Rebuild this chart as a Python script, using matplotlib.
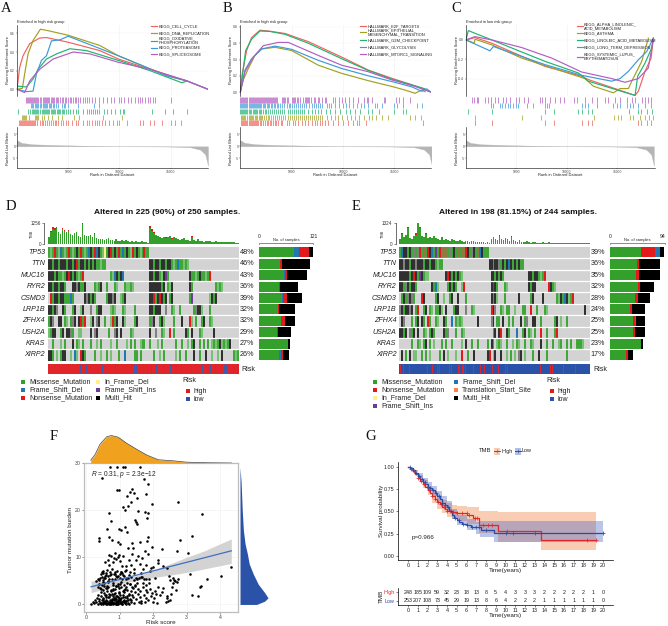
"""Composite figure: GSEA panels, two oncoplots, risk/TMB scatter and a KM plot."""
import matplotlib
matplotlib.use("Agg")
import matplotlib.pyplot as plt
from matplotlib.colors import ListedColormap
from matplotlib.patches import Rectangle
import numpy as np

plt.rcParams["font.family"] = ["Liberation Sans", "DejaVu Sans"]
plt.rcParams["mathtext.fontset"] = "custom"
plt.rcParams["mathtext.rm"] = "Liberation Sans"
plt.rcParams["mathtext.it"] = "Liberation Sans:italic"

W, H = 668, 626

RED, OLIVE, GREEN, BLUE, PURPLE = "#F0625A", "#A3A020", "#1DB56F", "#3C9AD8", "#B45CC0"
GSEA_COLORS = [RED, OLIVE, GREEN, BLUE, PURPLE]

# ---- panel A
a_rank = [
    [0, 260, 590, 1240, 2220, 2880, 5000, 8100, 9900, 13000, 16600, 18660],
    [0, 520, 750, 1080, 1570, 2290, 3200, 5000, 8100, 9900, 14640, 16600],
    [0, 915, 1570, 2060, 2880, 3860, 5160, 6800, 9900, 13000, 16110, 16600],
    [0, 915, 1570, 1900, 2390, 2880, 3370, 4180, 5000, 9900, 14640, 16600, 18660],
    [0, 750, 1240, 2220, 3530, 5490, 7120, 9900, 13000, 16600, 18660],
]
a_es = [
    [0, .235, .36, .49, .55, .555, .505, .415, .325, .215, .09, 0],
    [0, .01, .165, .38, .525, .645, .625, .58, .47, .36, .145, .09],
    [.035, .025, .11, .215, .325, .38, .435, .415, .31, .2, .07, .09],
    [0, -.025, -.02, .165, .31, .36, .52, .53, .57, .36, .145, .09, 0],
    [0, -.035, .09, .215, .325, .4, .38, .29, .215, .09, 0],
]
a_labels = ["KEGG_CELL_CYCLE", "KEGG_DNA_REPLICATION", "KEGG_OXIDATIVE_\nPHOSPHORYLATION",
            "KEGG_PROTEASOME", "KEGG_SPLICEOSOME"]
# hits in hundreds of ranks
a_hits = [
    [2, 3, 4, 5, 6, 7, 8, 9, 10, 11, 12, 13, 14, 15, 16, 17, 18, 20, 22, 24, 25, 27, 29, 31, 33, 35, 37, 38,
     40, 43, 45, 48, 50, 54, 58, 60, 64, 68, 70, 73, 76, 78, 80, 83, 86, 90, 94, 98, 100, 107, 120, 123, 130,
     134, 142, 150, 154, 160],
    [5, 6, 7, 8, 9, 12, 18, 19, 20, 21, 24, 26, 30, 34, 40, 44, 56, 61, 84, 103],
    [1, 11, 13, 15, 16, 17, 18, 19, 20, 21, 22, 24, 25, 26, 27, 28, 29, 30, 31, 33, 34, 35, 36, 37, 39, 40, 41,
     42, 44, 45, 46, 48, 50, 52, 55, 58, 60, 64, 68, 70, 72, 74, 76, 78, 80, 85, 88, 92, 96, 101, 104, 105,
     132, 145, 152, 166],
    [14, 15, 16, 18, 19, 20, 21, 22, 23, 25, 26, 27, 28, 29, 31, 32, 33, 35, 36, 38, 40, 44, 46, 47, 50, 60, 75, 80],
    [9, 10, 11, 12, 13, 14, 15, 16, 17, 18, 19, 20, 21, 22, 23, 25, 26, 27, 28, 29, 30, 31, 33, 34, 35, 36, 38,
     39, 40, 42, 44, 45, 47, 48, 50, 52, 53, 55, 57, 58, 60, 62, 64, 66, 68, 70, 73, 76, 80, 84, 88, 92, 95, 100,
     102, 105, 108, 111, 115, 118, 120, 122, 125, 128, 130, 133, 135, 150],
]

# ---- panel B
b_rank = [
    [0, 195, 615, 1100, 1915, 2730, 4350, 6620, 9870, 12470, 14740, 16690, 18570],
    [0, 290, 780, 1430, 2080, 3380, 5000, 7600, 9870, 12470, 14740, 16040, 17010, 17660, 17990],
    [0, 195, 520, 1100, 1915, 2890, 4350, 6620, 9870, 12470, 14740, 16690, 17990],
    [0, 455, 1100, 2080, 3380, 5000, 7600, 9870, 12470, 14740, 16690, 17660, 18150, 18570],
    [0, 455, 1270, 2240, 3700, 4675, 7600, 9870, 12470, 14740, 17010, 18570],
]
b_es = [
    [0, .23, .51, .67, .76, .75, .72, .62, .43, .27, .17, .09, 0],
    [0, .15, .29, .45, .53, .55, .51, .33, .23, .14, .07, .025, -.015, .025, .005],
    [0, .19, .51, .65, .75, .745, .71, .6, .41, .265, .16, .09, .04],
    [0, .27, .41, .53, .565, .525, .39, .29, .2, .13, .065, .01, .04, 0],
    [0, .25, .43, .57, .61, .61, .45, .33, .25, .15, .07, 0],
]
b_labels = ["HALLMARK_E2F_TARGETS", "HALLMARK_EPITHELIAL_\nMESENCHYMAL_TRANSITION",
            "HALLMARK_G2M_CHECKPOINT", "HALLMARK_GLYCOLYSIS", "HALLMARK_MTORC1_SIGNALING"]
b_hits = [
    [1, 2, 3, 4, 5, 6, 7, 8, 9, 10, 11, 12, 13, 14, 15, 16, 17, 19, 20, 22, 24, 26, 27, 29, 30, 32, 34, 35, 37, 40,
     41, 45, 47, 51, 53, 56, 60, 63, 66, 70, 73, 75, 78, 80, 82, 85, 90, 95, 100, 105, 110, 114, 116, 122, 178],
    [1, 2, 3, 4, 5, 7, 8, 9, 10, 11, 12, 14, 15, 16, 18, 19, 20, 21, 23, 25, 27, 28, 30, 32, 34, 36, 38, 40, 42,
     44, 46, 48, 50, 52, 54, 56, 58, 60, 62, 64, 66, 68, 70, 72, 74, 76, 78, 80, 84, 88, 92, 95, 99, 104, 108, 112,
     116, 120, 125, 128, 132, 138, 144, 165, 170, 176],
    [0, 1, 2, 3, 4, 5, 6, 7, 8, 9, 10, 12, 13, 14, 15, 16, 18, 19, 20, 22, 24, 25, 27, 29, 31, 33, 35, 37, 39, 41,
     43, 46, 48, 50, 52, 54, 56, 58, 60, 62, 66, 70, 73, 76, 79, 83, 87, 92, 97, 103, 107, 112, 117, 124, 128, 135,
     150, 158, 161],
    [0, 1, 2, 3, 4, 5, 6, 7, 8, 9, 10, 11, 12, 13, 14, 15, 16, 17, 18, 19, 20, 22, 23, 24, 26, 27, 28, 30, 31, 33,
     34, 36, 37, 39, 41, 43, 45, 47, 48, 50, 52, 54, 56, 58, 60, 62, 64, 67, 70, 72, 74, 76, 78, 80, 84, 86, 88, 92,
     96, 100, 103, 106, 110, 114, 118, 120, 124, 131, 133, 138, 150, 153, 158, 172, 177],
    [0, 1, 2, 3, 4, 5, 6, 7, 8, 9, 10, 11, 12, 13, 14, 15, 16, 17, 18, 19, 20, 21, 22, 23, 24, 25, 26, 27, 28, 29,
     30, 31, 32, 33, 34, 35, 36, 41, 42, 43, 44, 45, 46, 50, 51, 52, 53, 55, 56, 58, 61, 63, 64, 65, 66, 67, 69, 72,
     73, 76, 77, 80, 82, 83, 90, 92, 96, 99, 102, 106, 110, 115, 120, 123, 124, 128, 140, 141, 152, 155, 158, 165],
]

# ---- panel C
c_rank = [
    [0, 890, 2550, 7850, 11490, 12150, 16790, 17120, 17780, 18380, 18610],
    [0, 830, 890, 2550, 5530, 11820, 12650, 14640, 15300, 16130, 16460, 17450, 18110],
    [0, 230, 2550, 7850, 11160, 12150, 16790, 17050, 17780, 18440, 18610],
    [0, 2380, 2715, 7850, 11490, 14470, 15300, 16130, 17120, 17950, 18610],
    [0, 890, 2550, 5530, 8510, 11490, 14470, 15790, 17120, 18110, 18610],
]
c_es = [
    [0, .024, -.034, -.274, -.376, -.41, -.574, -.53, -.325, -.188, .017],
    [0, -.034, .007, -.051, -.188, -.4, -.479, -.547, -.503, -.503, -.427, -.222, .017],
    [0, .096, 0, -.222, -.342, -.427, -.574, -.376, -.239, -.085, .017],
    [0, -.113, -.068, -.256, -.366, -.427, -.4, -.325, -.205, -.12, .017],
    [0, .034, 0, -.079, -.188, -.332, -.4, -.438, -.4, -.29, .017],
]
c_labels = ["KEGG_ALPHA_LINOLENIC_\nACID_METABOLISM", "KEGG_ASTHMA", "KEGG_LINOLEIC_ACID_METABOLISM",
            "KEGG_LONG_TERM_DEPRESSION", "KEGG_SYSTEMIC_LUPUS_\nERYTHEMATOSUS"]
c_hits = [
    [9, 26, 78, 87, 115, 121, 125, 171, 174, 180, 184],
    [9, 56, 74, 127, 147, 151, 154, 163, 166, 173, 178, 182, 186],
    [2, 26, 78, 87, 111, 115, 121, 125, 162, 171, 174, 180, 185],
    [25, 27, 34, 36, 39, 42, 44, 47, 50, 52, 61, 67, 78, 80, 82, 115, 118, 121, 130, 146, 150, 153, 160, 163, 166,
     171, 178, 184],
    [6, 8, 11, 12, 19, 22, 25, 29, 32, 37, 40, 44, 50, 53, 58, 62, 73, 75, 78, 83, 88, 93, 97, 107, 110, 118, 125,
     130, 138, 141, 148, 153, 160, 165, 168, 175, 178, 181, 184],
]

metric_rank = [0, 430, 1570, 4840, 9740, 14640, 16930, 17910, 18400, 18660]
metric_value = [2.5, 1.4, .8, .4, 0, -.1, -.4, -1.4, -3.4, -8]

# ---- oncoplots
GENES_D = ["TP53", "TTN", "MUC16", "RYR2", "CSMD3", "LRP1B", "ZFHX4", "USH2A", "KRAS", "XIRP2"]
GENES_E = ["TP53", "TTN", "MUC16", "RYR2", "CSMD3", "LRP1B", "ZFHX4", "USH2A", "KRAS", "XIRP2"]
PCT_D = ["48%", "46%", "43%", "36%", "39%", "32%", "32%", "29%", "27%", "26%"]
PCT_E = ["39%", "36%", "35%", "32%", "28%", "24%", "25%", "25%", "23%", "17%"]

ONCO_D = [
    "glgrglbglg rglgkgrglg bkgrbkglyg krgkgrgbgk glrgkglgrg g......... .......... .......... .......... ......",
    "kkgkkgkkkg kkgkrgkkgk gkgkgglgg. .......... .......... .kkgkkgkkg kkglgbgglg l......... .......... ......",
    "kkkgkgglgk rkgkglgr.. .......... .glbkgkb.. .......... .kkgkkglkv g......... .kgglgkggl gr........ ......",
    "kkgkkgkkg. ..kkdkggk. ...glgk..g ...gl...gl lgl....... .kkkkkkgk. glk....... .kg....... ....glgl.. ......",
    ".rgkkgkkgg gbg.....kd kgkg.....g kkdk..lgk. .......... .kkrgkrkgk .gk....... .gv....... .lkgk..... ......",
    "kkgkd..kg. ..gk..lk.. .d..gkk... .lgl...gl. ...g...... .kkgkkk..d ..gl..g... ...gdkkl.. .g........ ......",
    "gkd..kk.gl .gdk.krgr. .lk.dk..g. .lrgk..kl. ...gk..... .gdk..gkl. ...g...k.. .rl.g..gk. .gl....... ......",
    "lgkk..gk.k kdg..ll... .k.dk..... g..dk.k... .gl....... .k..d..gl. .r.g.....k g.k...gl.. ...k...... ......",
    "..g...l.g. ..k.gl.g.. .g..l.g... .l..g....l .g.g..lgg. .g...l.g.. ....g..g.. l.gk..g.g. g.lglgklgl gk....",
    "kkg.l.gkk. .l.bl.rkg. ...g..l..g .l...g..b. ...gg.g... ...g..l.g. ....l.g..g ...k..g..k ..l..l.k.. ...glg",
]
ONCO_E = [
    "gbkkgkgdgd rgngrkbgvg rnnngdgkgn gnnrkgdkgn bkggg..... .......... .......... .......... .......... ......",
    "kkdkkgkkdk kkgkkgkkgl gg........ .......... .....kkgkk dgkgkbkgkg kgg....... .......... .......... ......",
    "kkkkkgkrkg vkgll..... ...krkgkgk gl........ ......kkgk gkg....... .....kkgkk glgr...... .......... ......",
    "kkgdkgkkg. ......kgbl ....gkgkg. .lr....... ......krkg ...gl..... .....kgkk. .....rkgl. .......... ......",
    ".gkgdkdg.. .rk.....gk ..l..gk..k ...g...... ......kgkl ...g...... k.....gk.. ..k......g lkgbklgr.. ......",
    "dkgkkdk.gr ..gk.gl.gg kl.k...gkk ...d..gl.. ......rkd. .gl.gg..l. ..gg..r..g ...gl..... .......... ...k..",
    ".kd...g.gk .kg.rg..gl ..kg..b.gl gl.......k ......dk.g g.k..g.g.. .k.gd..kk. .g......gk .l..g..... ......",
    "kkgk.dgk.k ..gl.gkg.. ..kgd...g. .gl....... .......gk. kr..kg...b ..gk.gl.g. .r..g...gr .......... ......",
    "......g..g l.gk.g.l.. .g.g..g... .l.k..g..g ....g.kg.l gl..g..l.g l..g..gl.. .k..g..g.. lg..g.g..g ggl...",
    ".k.g.k.ll. .g.g.l.... g.k.l...l. .r..g..k.. ....kr.lk. .k..l.g.l. dk.l...g.. k...g..... ....g..... ......",
]
ONCO_COLORS = {".": "#D3D3D3", "g": "#3FA63A", "l": "#78C074", "k": "#303030", "d": "#808080", "r": "#E31A1C",
               "b": "#1F78B4", "v": "#6A3D9A", "y": "#FFF08A", "n": "#8F7A3F"}

tmb_d = [400, 700, 900, 850, 950, 700, 600, 900, 800, 700, 750, 600, 550, 650, 700, 500, 400, 1200, 520, 460, 500,
         560, 400, 600, 380, 290, 320, 280, 240, 330, 350, 270, 260, 210, 310, 220, 200, 260, 190, 250, 180, 160, 190,
         150, 170, 150, 130, 180, 150, 120, 90, 950, 800, 650, 520, 480, 430, 380, 400, 360, 430, 460, 300, 420, 380,
         290, 260, 300, 340, 270, 240, 220, 420, 260, 220, 300, 180, 170, 150, 200, 170, 190, 150, 130, 170, 130, 120,
         160, 120, 120, 110, 140, 120, 110, 90, 80]
tmb_e = [300, 620, 420, 560, 1000, 400, 350, 480, 600, 1280, 1000, 500, 450, 620, 400, 420, 360, 500, 380, 300, 280,
         420, 260, 300, 240, 200, 350, 240, 180, 200, 260, 190, 170, 200, 230, 160, 180, 200, 140, 170, 130, 150,
         120, 110, 120, 90, 300, 420, 350, 280, 500, 320, 260, 380, 300, 220, 450, 250, 200, 170, 260, 150, 130, 150,
         190, 120, 110, 130, 150, 100, 110, 90, 170, 110, 90, 120, 90, 80, 100, 80, 110, 80, 70, 90, 70, 80, 100, 70,
         80, 60, 70, 90, 60, 70, 50, 60]
tmb_d_peak_cols = [1, 2, 3, 4, 7, 8, 10, 17, 23, 51, 52, 53, 59, 62, 72]
tmb_d_peak_caps = [60, 90, 70, 80, 70, 60, 60, 100, 60, 90, 70, 50, 40, 40, 40]
tmb_e_peak_cols = [1, 4, 8, 9, 10, 13, 47, 50, 56]
tmb_e_peak_caps = [60, 80, 70, 110, 80, 50, 40, 40, 40]

BAR_KINDS = ["#33A02C", "#1F78B4", "#E31A1C", "#000000"]
side_d_missense = [78, 47, 56, 45, 52, 43, 50, 41, 65, 45]
side_d_frameshift = [11, 0, 2, 0, 2, 0, 0, 0, 0, 5]
side_d_nonsense = [23, 4, 5, 2, 8, 2, 9, 1, 0, 3]
side_d_multi = [9, 62, 43, 41, 34, 36, 22, 30, 3, 13]
side_e_missense = [53, 46, 45, 48, 42, 35, 39, 39, 53, 27]
side_e_nonsense = [24, 3, 4, 4, 5, 2, 4, 4, 0, 3]
side_e_frameshift = [8, 0, 0, 0, 0, 0, 2, 0, 0, 0]
side_e_multi = [8, 37, 36, 24, 22, 22, 15, 17, 3, 10]

risk_low_in_d = [42, 50, 64, 71, 88, 113, 116, 119, 125, 130, 135, 142, 151, 160, 175, 188, 193, 202, 212, 219, 231,
                 234, 243, 248]
risk_high_in_e = [1, 5, 13, 36, 42, 48, 51, 64, 67, 75, 77, 80, 82, 84, 94, 103, 109, 119, 127, 136, 138, 180, 193,
                  195, 210, 225]

LEGEND_D = [("Missense_Mutation", "#33A02C", 23, 381.7), ("Frame_Shift_Del", "#1F78B4", 23, 390),
            ("Nonsense_Mutation", "#E31A1C", 23, 398), ("In_Frame_Del", "#FFF08A", 98, 381.7),
            ("Frame_Shift_Ins", "#6A3D9A", 98, 390), ("Multi_Hit", "#000000", 98, 398)]
LEGEND_E = [("Missense_Mutation", "#33A02C", 375, 381.7), ("Nonsense_Mutation", "#E31A1C", 375, 390),
            ("In_Frame_Del", "#FFF08A", 375, 398), ("Frame_Shift_Ins", "#6A3D9A", 375, 406),
            ("Frame_Shift_Del", "#1F78B4", 456, 381.7), ("Translation_Start_Site", "#FF7F50", 456, 390),
            ("Multi_Hit", "#000000", 456, 398)]

# ---- panel F
risk_score = [
    .71, .91, 1.11, 1.16, 1.61, .49, 1.74, 1.86, 1.37, .93, .98, 1.31, 1.44, 1.79, 1.23, 1.51, 1.33, 1.98, 2.75, 1.11,
    1.26, 1.17, 1.55, 1.77, .69, 3.47, 1.86, 1.82, 1.47, .74, 1.49, 1.53, 1.15, .98, 1.03, .63, 1.23, 3.17, .39, .39,
    .7, 1.84, .76, 2.8, .94, 1.01, 1.38, 1.61, 1.81, 2.27, 2.72, 3.05, 1.98, 4.33, 3.1, 4.03, 3.6, 3.42, 3.4, 3.17,
    3.34,
    .31, .36, .42, .45, .5, .52, .55, .58, .6, .62, .66, .68, .7, .72, .75, .78, .8, .83, .86, .88, .9, .92, .95, .98,
    1.0, 1.02, 1.05, 1.08, 1.1, 1.13, 1.16, 1.2, 1.24, 1.28, 1.3, 1.33, 1.37, 1.4, 1.44, 1.48, 1.5, 1.55, 1.6, 1.63,
    1.67, 1.7, 1.75, 1.8, 1.85, 1.9, 1.95, 2.0, 2.05, 2.14, 2.14, 2.3, 2.4, 2.48, 2.5, 2.6, 2.62, 2.75,
    .4, .48, .56, .65, .7, .76, .82, .87, .93, 1.0, 1.06, 1.11, 1.18, 1.25, 1.35, 1.42, 1.52, 1.58, 1.65, 1.72, 1.78,
    1.88,
    .14, .2, .25, .28, .3, .33, .35, .38, .4, .42, .44, .46, .48, .5, .52, .54, .56, .58, .6, .62,
    .64, .66, .68, .7, .72, .74, .76, .78, .8, .82, .84, .86, .88, .9, .92, .94, .96, .98, 1.0, 1.02,
    .45, .5, .55, .6, .63, .67, .71, .75, .79, .83, .87, .91, .95, .99, 1.03, 1.05, 1.08, 1.1, 1.12, 1.15,
    1.17, 1.2, 1.22, 1.25, 1.27, 1.3, 1.32, 1.35, 1.38, 1.4, 1.43, 1.46, 1.5, 1.53, 1.57, 1.6, 1.62, 1.65, 1.7, 1.72,
    1.75, 1.78, 1.8, 1.83, 1.86, 1.9, 1.93, 1.96, 2.0, 2.03, 2.05, 2.08, 2.12, 2.15, 2.2, 2.25, 2.3, 2.37, 2.4, 2.42,
    2.45, 2.5, 2.52, 2.55, 2.6, 2.65, 2.68, 2.72, .36, .41, .47, .53, .59, .65, .69, .73, .77, .81, .85, .89,
    .93, .97, 1.01, 1.04, 1.07, 1.09, 1.13, 1.18, 1.23, 1.28, 1.34, 1.41, 1.47, 1.55, 1.63, 1.7, 1.79, 1.87, .6, .7,
    .72, .75, .78, .8, .83, .85, .88, .91, .94, .96, .99, 1.02, 1.06, 1.1, 1.14, 1.19, 1.24, .55, .5, .45,
    .52, .57, .61, .66, .69, .73, .77, .8, .84, .89, .93, .97, 1.0, 1.04, 1.09, 1.13, 1.18, 1.22, 1.27, 1.33,
    .35, .4, .44, .5, .53, .57, .62, .67, .74, .79, .85, .9, .96, 1.01, 1.07, 1.15, 1.21, 1.29, 1.36, 1.45,
    .47, .51, .59, .64, .71, .79, .86, .94, 1.03, 1.12, 1.2, 1.3, 1.42, 1.56, 1.68, .5, .6, .7, .8, .9,
]
tmb_score = [
    29.1, 29.1, 29.1, 29.1, 29.1, 26.9, 26.6, 25.6, 24.5, 24.3, 24.2, 23.9, 23.6, 23.5, 23, 22.6, 21.7, 21.4, 21.7, 20.7,
    20.9, 20.1, 19.8, 19.6, 19.3, 19.2, 19.3, 18.3, 18, 17.8, 17.5, 17.1, 16.4, 16.1, 15.8, 16, 15.3, 14.5, 14.2, 13.5,
    14.4, 14.4, 13.7, 13.6, 13.2, 12.9, 13.1, 13.2, 13.5, 11.7, 11.3, 11, 12.2, 7.9, 6.5, 6, 5.3, 4, 3.8, 2,
    1.7,
    5.0, 5.5, 5.6, 6.5, 5.2, 7.1, 5.6, 8.9, 6.2, 7.4, 9.4, 8.3, 10.5, 6.2, 10.3, 7.6, 9.0, 9.8, 11.0, 6.0, 9.6, 7.1, 10.0,
    10.5, 6.5, 9.3, 6.8, 8.2, 10.2, 6.0, 7.1, 8.1, 12.0, 9.4, 6.8, 8.3, 10.6, 11.9, 7.6, 9.5, 5.7, 10.2, 8.6, 6.6,
    9.8, 7.5, 11.3, 8.4, 10.8, 7.2, 7.7, 7.9, 5.6, 9.5, 8.8, 8.2, 7.8, 6.0, 5.2, 5.6, 5.2, 5.4,
    5.2, 5.9, 5.7, 6.1, 5.4, 5.5, 6.4, 5.3, 5.8, 5.6, 5.4, 6.2, 5.5, 5.7, 5.9, 5.2, 5.5, 5.6, 5.8, 5.4, 5.3,
    5.5,
    .2, .6, .3, .9, .5, 1.4, .2, .8, 1.1, .4, 1.7, .3, .9, .2, 1.3, .6, 2.0, .4, 1.0, .2,
    .7, 1.5, .3, 2.2, .9, .2, 1.2, .5, 1.8, .3, .9, 2.5, .2, 1.1, .6, 1.6, .3, .8, 2.1, .4,
    2.6, 3.1, 2.4, 3.4, 2.8, 3.7, 1.9, 2.9, 4.1, 2.3, 3.3, 1.7, 4.4, 2.7, 1.3, 3.6, .5, 2.0, 1.0, .3,
    1.5, .8, 3.0, .4, 2.3, 1.2, 4.3, .6, 1.9, 3.4, .3, 2.6, 1.1, 4.6, .5, 2.9, 1.6, .4, 3.7, 2.1,
    .5, 1.3, 4.2, 2.7, .9, 3.3, 1.8, 2.4, .6, 1.4, 2.9, 2.2, .4, 3.6, 1.9, 2.6, 3.4, .5, 1.8, 1.4,
    .7, .9, 2.3, 3.8, 4.6, 4.9, 3.0, 4.8, 1.9, 3.5, 4.1, 4.5, 1.6, 4.9, .6, 3.1, .4, 4.6, 1.4, 3.9,
    .5, 3.4, 1.1, 4.8, .2, 2.9, 4.1, 3.6, 1.7, .2, 2.8, 1.5, 4.0, 2.2, .8, 4.6, 3.0, 4.5, .1, .4,
    .1, .6, .9, .2, 1.4, .4, .7, .1, 1.0, .2, 1.3, .7, .1, .7, .5, .2, .9, .7, .5, .2,
    1.2, .5, 1.9, .3, 1.5, .8, 2.2, .4, 1.1, 1.8, .6, 2.4, .9, .3, 1.6, 2.7, .7, 1.3, 2.0, 1.0,
    3.8, 4.4, 3.2, 6.7, 4.0, 6.0, 3.5, 4.7, 6.4, 3.1, 6.8, 3.9, 6.1, 4.3, 6.6, 3.3, 4.6, 6.3, 3.6, 4.1,
    6.9, 4.8, 6.6, 3.9, 6.8, 3.3, 6.5, 4.0, 6.9, 3.0, 7.4, 4.4, 6.7, 3.2, 5.9, .4, .3, .2, .3, .2,
]
fit_risk = [.15, 4.33]
fit_tmb = [3.74, 11.37]
band_risk = [.15, .6, 1.0, 1.5, 2, 2.5, 3, 3.5, 4.33]
band_upper = [5.0, 5.0, 5.4, 6.1, 7.3, 8.6, 10, 11.3, 13.9]
band_lower = [2.5, 3.4, 4.3, 5.1, 5.7, 6.2, 6.8, 7.5, 8.7]
dens_risk = [.14, .27, .42, .62, .76, .96, 1.21, 1.51, 1.81, 2.15, 2.6, 3.0, 3.6, 4.34]
dens_risk_h = [.1, .31, .69, .96, 1.0, .94, .72, .5, .29, .12, .08, .03, .01, .0]
dens_tmb = [0, .7, 1.4, 2.5, 4.3, 6.5, 8.6, 10.8, 12.9, 15.8, 20, 25.9, 29.1]
dens_tmb_h = [.59, .88, 1.0, .88, .65, .47, .33, .26, .18, .12, .08, .04, 0]

# ---- panel G
km_high_t = [0, .25, .5, .75, 1, 1.25, 1.5, 1.75, 2, 2.25, 2.5, 2.75, 3, 3.25, 3.5, 3.75, 4, 4.25, 4.5, 5, 6.1, 6.7,
             7.3, 9.2, 13.6, 19.3]
km_high_s = [1, .98, .95, .92, .88, .845, .81, .775, .74, .705, .67, .64, .61, .58, .55, .53, .51, .5, .49, .48, .455,
             .43, .35, .275, .185, .185]
km_low_t = [0, .25, .5, .75, 1, 1.25, 1.5, 1.75, 2, 2.25, 2.5, 2.75, 3, 3.25, 3.5, 3.75, 4, 4.25, 4.5, 4.75, 5, 5.25,
            5.5, 6, 6.5, 7, 7.5, 8.8, 20]
km_low_s = [1, .985, .96, .93, .9, .865, .83, .805, .78, .76, .74, .705, .67, .635, .6, .575, .55, .5, .46, .43, .4,
            .38, .36, .345, .33, .32, .29, .255, .255]
ci_high_t = [0, .5, 1, 1.5, 2, 2.5, 3, 3.5, 4, 4.5, 5, 6.1, 7.3, 9.2, 13.6, 19.3]
ci_high_up = [1, .96, .91, .85, .79, .73, .68, .63, .59, .57, .565, .55, .5, .495, .495, .495]
ci_high_lo = [1, .93, .85, .76, .68, .6, .53, .48, .44, .41, .39, .36, .26, .155, .07, .07]
ci_low_t = [0, .5, 1, 1.5, 2, 2.5, 3, 3.5, 4, 4.5, 5, 6, 7, 7.4, 8.8, 20]
ci_low_up = [1, .97, .93, .88, .83, .78, .73, .67, .62, .53, .46, .41, .38, .39, .39, .39]
ci_low_lo = [1, .95, .87, .8, .73, .67, .61, .55, .49, .41, .35, .29, .25, .21, .16, .16]
cens_high = [.3, .6, 1, 1.3, 1.6, 1.9, 2.2, 2.5, 2.8, 3.1, 3.4, 3.7, 4, 4.3, 4.6, 5, 5.5, 6, 6.3, 6.9, 7.1, 7.7, 8.2,
             8.6, 10.2, 18.4, 19.3]
cens_low = [.2, .5, .8, 1.1, 1.4, 1.7, 2, 2.3, 2.6, 2.9, 3.2, 3.5, 3.8, 4.1, 4.4, 4.8, 5.2, 5.6, 6.1, 6.6, 7, 7.3, 8,
            10.1, 10.8, 13, 20]
at_risk_high = [248, 185, 109, 59, 32, 23, 18, 13, 8, 5, 4, 3, 3, 3, 2, 2, 2, 2, 2, 1, 0]
at_risk_low = [253, 207, 108, 73, 45, 29, 19, 13, 8, 6, 4, 2, 2, 2, 1, 1, 1, 1, 1, 1, 0]
years = list(range(21))

fig = plt.figure(figsize=(W / 100, H / 100), dpi=100)


def px_axes(x0, y0, x1, y1):
    """Axes from pixel box, y counted from the top of the figure."""
    return fig.add_axes([x0 / W, 1 - y1 / H, (x1 - x0) / W, (y1 - y0) / H])


def label(x, y, s, **kw):
    kw.setdefault("va", "center")
    fig.text(x / W, 1 - y / H, s, **kw)


def plot_gsea(x0, x1, title, title_x, rank, es, names, hits, ylims, yticks, ylabs, xmax, leg, leg_x):
    ax = px_axes(x0, 25, x1, 96)
    for r, e, c in zip(rank, es, GSEA_COLORS):
        ax.plot(r, e, color=c, lw=0.85, solid_joinstyle="round")
    ax.set_xlim(0, xmax)
    ax.set_ylim(*ylims)
    ax.set_xticks([5000, 10000, 15000], [])
    ax.set_yticks(yticks, ylabs)
    ax.tick_params(axis="y", labelsize=2.4, length=1, width=0.3, pad=0.6, colors="#444444")
    ax.tick_params(axis="x", length=0)
    ax.grid(axis="x", color="#efefef", lw=0.4)
    ax.grid(axis="y", color="#f3f3f3", lw=0.3)
    ax.set_axisbelow(True)
    for s in ["top", "right", "bottom"]:
        ax.spines[s].set_visible(False)
    ax.spines["left"].set_linewidth(0.4)

    rug = px_axes(x0, 97, x1, 126)
    for i, (h, c) in enumerate(zip(hits, GSEA_COLORS)):
        ranks = np.array(h) * 100
        rug.vlines(ranks, i + 0.05, i + 0.95, color=c, lw=0.7, alpha=0.72)
    rug.set_xlim(0, xmax)
    rug.set_ylim(0, 5)
    rug.axis("off")

    m = px_axes(x0, 127, x1, 168)
    m.fill_between(metric_rank, 0, metric_value, color="#b5b5b5", lw=0.2)
    m.set_xlim(0, xmax)
    m.set_ylim(-8.9, 7.9)
    m.set_xticks([5000, 10000, 15000], ["5000", "10000", "15000"])
    m.set_yticks([-5, 0, 5], ["-5", "0", "5"])
    m.tick_params(labelsize=2.4, length=0.8, width=0.3, pad=0.3, colors="#444444")
    m.grid(axis="x", color="#efefef", lw=0.4)
    m.set_axisbelow(True)
    for s in ["top", "right"]:
        m.spines[s].set_visible(False)
    m.spines["left"].set_linewidth(0.4)
    m.spines["bottom"].set_linewidth(0.4)

    label(title_x, 21.7, title, fontsize=2.9, color="#222222")
    label(x0 - 9, 60, "Running Enrichment Score", fontsize=2.9, rotation=90, ha="center", color="#222222")
    label(x0 - 9, 148, "Ranked List Metric", fontsize=2.9, rotation=90, ha="center", color="#222222")
    label((x0 + x1) / 2, 174.5, "Rank in Ordered Dataset", fontsize=2.9, ha="center", color="#222222")
    for n, c, y in zip(names, GSEA_COLORS, leg):
        ov.plot([leg_x, leg_x + 6], [y, y], color=c, lw=0.85)
        label(leg_x + 7.3, y, n, fontsize=2.9, color="#222222", linespacing=1.0)


def plot_onco(x0, x1, sx0, sx1, title, title_x, rows, genes, pcts, tmb, caps_cols, caps, tmb_top, sides, side_top,
              risk_marks, risk_bg, risk_fg, n_samples):
    mat = px_axes(x0, 246.7, x1, 360.7)
    keys = list(ONCO_COLORS)
    cells = [[keys.index(ch) for ch in r.replace(" ", "").ljust(96, ".")[:96]] for r in rows]
    mat.imshow(cells, aspect="auto", interpolation="nearest", vmin=0, vmax=len(keys) - 1,
               cmap=ListedColormap([ONCO_COLORS[k] for k in keys]))
    for i in range(1, len(genes)):
        mat.axhline(i - 0.5, color="white", lw=0.9)
    mat.axis("off")
    for i, (g, p) in enumerate(zip(genes, pcts)):
        y = 246.7 + (i + 0.5) * 11.4
        label(x0 - 2.5, y, g, fontsize=5.1, style="italic", ha="right", color="#222222")
        label(x1 + 0.8, y, p, fontsize=5.2, color="#222222")

    t = px_axes(x0, 222.7, x1, 244.3)
    t.bar(range(96), tmb, width=0.85, color="#33A02C", lw=0)
    t.bar(caps_cols, caps, width=0.85, bottom=[tmb[c] for c in caps_cols], color="#E31A1C", lw=0)
    t.set_xlim(-0.5, 95.5)
    t.set_ylim(0, tmb_top)
    t.set_xticks([])
    t.set_yticks([0, tmb_top], ["0", str(tmb_top)])
    t.tick_params(labelsize=3.3, length=1.5, width=0.4, pad=0.8, colors="#333333")
    for s in ["top", "right", "bottom"]:
        t.spines[s].set_visible(False)
    t.spines["left"].set_position(("outward", 2.5))
    t.spines["left"].set_linewidth(0.4)
    label(x0 - 16, 233.5, "TMB", fontsize=2.8, rotation=90, ha="center", color="#333333")

    s_ax = px_axes(sx0, 246.7, sx1, 360.7)
    left = np.zeros(len(genes))
    for vals, c in sides:
        s_ax.barh(range(len(genes)), vals, left=left, height=0.86, color=c, lw=0)
        left = left + np.array(vals)
    s_ax.set_xlim(0, side_top)
    s_ax.set_ylim(len(genes) - 0.5, -0.5)
    s_ax.axis("off")
    cap_y = 242.7
    ov.plot([sx0, sx0, sx1, sx1], [cap_y + 1.5, cap_y, cap_y, cap_y + 1.5], color="#333333", lw=0.4)
    label(sx0, 236, "0", fontsize=3.6, ha="center", color="#222222")
    label(min(sx1, W - 5), 236, str(side_top), fontsize=3.6, ha="center", color="#222222")
    label((sx0 + sx1) / 2, 240.5, "No. of samples", fontsize=2.9, ha="center", color="#222222")

    r = px_axes(x0, 364, x1, 374)
    r.set_facecolor(risk_bg)
    r.vlines(risk_marks, 0, 1, color=risk_fg, lw=0.7)
    r.set_xlim(0, n_samples)
    r.set_ylim(0, 1)
    r.set_xticks([])
    r.set_yticks([])
    for s in r.spines.values():
        s.set_visible(False)
    label(x1 + 3, 369, "Risk", fontsize=5, color="#222222")
    label(title_x, 212, title, fontsize=6.0, weight="bold", ha="center", color="#111111")


def onco_legend(items, risk_title_x, sq_x):
    for name, c, x, y in items:
        ov.scatter([x], [y], s=5, marker="s", color=c, lw=0)
        label(x + 6, y, name, fontsize=5, color="#222222")
    label(risk_title_x, 381, "Risk", fontsize=5, color="#222222")
    for name, c, y in [("high", "#E31A1C", 391.3), ("low", "#2A52A8", 399.3)]:
        ov.scatter([sq_x], [y], s=5, marker="s", color=c, lw=0)
        label(sq_x + 6, y, name, fontsize=5, color="#222222")


def plot_scatter():
    ax = px_axes(84, 463, 238, 612)
    ax.fill_between(band_risk, band_lower, band_upper, color="#c9c9c9", alpha=0.8, lw=0, zorder=2)
    n = min(len(risk_score), len(tmb_score))
    ax.scatter(risk_score[:n], tmb_score[:n], s=3.4, color="black", lw=0, zorder=3)
    ax.plot(fit_risk, fit_tmb, color="#3F6FC4", lw=0.9, zorder=4)
    ax.set_xlim(-0.06, 4.53)
    ax.set_ylim(-1.6, 30.0)
    ax.set_xticks([0, 1, 2, 3, 4])
    ax.set_yticks([0, 10, 20, 30])
    ax.tick_params(labelsize=3.7, length=1.2, width=0.4, pad=1, colors="#444444")
    ax.grid(color="#efefef", lw=0.4)
    ax.set_axisbelow(True)
    for s in ax.spines.values():
        s.set_color("#bdbdbd")
        s.set_linewidth(0.9)
    label(161, 622, "Risk score", fontsize=4.6, ha="center", color="#222222")
    label(70.7, 540, "Tumor mutation burden", fontsize=4.6, rotation=90, ha="center", color="#222222")
    label(90.7, 474, r"$\mathit{R}$ = 0.31, $\mathit{p}$ = 2.3e$-$12", fontsize=4.8, color="#222222")

    top = px_axes(84, 435, 238, 463)
    top.fill_between(dens_risk, 0, dens_risk_h, color="#F0A21E", lw=0)
    top.plot(dens_risk, dens_risk_h, color="#444444", lw=0.5)
    top.set_xlim(-0.06, 4.53)
    top.set_ylim(0, 1.02)
    top.axis("off")

    side = px_axes(240, 463, 270, 612)
    side.fill_betweenx(dens_tmb, 0, dens_tmb_h, color="#2A52A8", lw=0)
    side.set_ylim(-1.6, 30.0)
    side.set_xlim(0, 1.07)
    side.axis("off")


def plot_km():
    ax = px_axes(398, 462, 612.7, 560)
    ax.fill_between(ci_high_t, ci_high_lo, ci_high_up, step="post", color="#F08A4B", alpha=0.42, lw=0)
    ax.fill_between(ci_low_t, ci_low_lo, ci_low_up, step="post", color="#4D68C4", alpha=0.38, lw=0)
    ax.step(km_high_t, km_high_s, where="post", color="#E3262B", lw=0.9)
    ax.step(km_low_t, km_low_s, where="post", color="#2A4CA8", lw=0.9)
    for times, kt, ks, c in [(cens_high, km_high_t, km_high_s, "#E3262B"), (cens_low, km_low_t, km_low_s, "#2A4CA8")]:
        idx = np.searchsorted(kt, times, side="right") - 1
        ax.plot(times, np.array(ks)[idx], "+", color=c, ms=2.4, mew=0.5)
    ax.set_xlim(-1.03, 21.0)
    ax.set_ylim(-0.045, 1.055)
    ax.set_xticks(years)
    ax.set_yticks([0, .25, .5, .75, 1], ["0.00", "0.25", "0.50", "0.75", "1.00"])
    ax.tick_params(labelsize=3.9, length=1.5, width=0.4, pad=1, colors="#222222")
    for s in ["top", "right"]:
        ax.spines[s].set_visible(False)
    ax.spines["left"].set_linewidth(0.5)
    ax.spines["bottom"].set_linewidth(0.5)
    label(505.7, 570.7, "Time(years)", fontsize=4.5, ha="center", color="#222222")
    label(381.7, 511, "Survival probability", fontsize=4.5, rotation=90, ha="center", color="#222222")
    label(412, 538, "p=0.966", fontsize=4.5, color="#222222")

    label(479, 451, "TMB", fontsize=4.2, color="#222222")
    for x, c, line_c, name in [(493.5, "#F08A4B", "#E3262B", "High"), (514.5, "#4D68C4", "#2A4CA8", "Low")]:
        ov.add_patch(Rectangle((x, 447.5), 6.5, 7, color=c, alpha=0.42, lw=0))
        ov.plot([x, x + 6.5], [451, 451], color=line_c, lw=0.7)
        ov.plot([x + 3.25], [451], "+", color=line_c, ms=2.2, mew=0.4)
        label(x + 7.5, 451, name, fontsize=3.9, color="#222222")

    tab = px_axes(398, 588, 612.7, 605)
    for t, h, l in zip(years, at_risk_high, at_risk_low):
        tab.text(t, 1, str(h), fontsize=3.9, ha="center", va="center", color="#222222")
        tab.text(t, 0, str(l), fontsize=3.9, ha="center", va="center", color="#222222")
    tab.set_xlim(-1.03, 21.0)
    tab.set_ylim(-0.55, 1.55)
    tab.set_xticks(years)
    tab.set_yticks([0, 1], ["Low", "High"])
    tab.tick_params(labelsize=3.9, length=1.5, width=0.4, pad=1, colors="#222222")
    for tick, c in zip(tab.get_yticklabels(), ["#2A4CA8", "#E3262B"]):
        tick.set_color(c)
    for s in ["top", "right"]:
        tab.spines[s].set_visible(False)
    tab.spines["left"].set_linewidth(0.5)
    tab.spines["bottom"].set_linewidth(0.5)
    label(505.7, 615.5, "Time(years)", fontsize=4.5, ha="center", color="#222222")
    label(381.7, 596, "TMB", fontsize=4.5, rotation=90, ha="center", color="#222222")


# overlay in pixel units, for keys and brackets
ov = fig.add_axes([0, 0, 1, 1], zorder=10)
ov.set_xlim(0, W)
ov.set_ylim(H, 0)
ov.axis("off")

plot_gsea(17, 208, "Enriched in high risk group", 17, a_rank, a_es, a_labels, a_hits, (-.072, .69),
          [0, .2, .4, .6], ["0.0", "0.2", "0.4", "0.6"], 18660, [26, 33.3, 40.8, 47.6, 54], 151)
plot_gsea(240.3, 431, "Enriched in high risk group", 240.3, b_rank, b_es, b_labels, b_hits, (-.048, .824),
          [0, .2, .4, .6, .8], ["0.0", "0.2", "0.4", "0.6", "0.8"], 18570, [26, 32.3, 40, 47.3, 54], 360)
plot_gsea(466, 655, "Enriched in low risk group", 466, c_rank, c_es, c_labels, c_hits, (-.58, .154),
          [0, -.2, -.4], ["0.0", "-0.2", "-0.4"], 18770, [26.2, 33.3, 40, 47.3, 56.7], 576.7)

plot_onco(47.7, 238.7, 259, 313.3, "Altered in 225 (90%) of 250 samples.", 167, ONCO_D, GENES_D, PCT_D, tmb_d,
          tmb_d_peak_cols, tmb_d_peak_caps, 1256,
          [(side_d_missense, BAR_KINDS[0]), (side_d_frameshift, BAR_KINDS[1]), (side_d_nonsense, BAR_KINDS[2]),
           (side_d_multi, BAR_KINDS[3])], 121, risk_low_in_d, "#E0262B", "#3A5BB0", 250)
plot_onco(399, 590, 610, 665, "Altered in 198 (81.15%) of 244 samples.", 518, ONCO_E, GENES_E, PCT_E, tmb_e,
          tmb_e_peak_cols, tmb_e_peak_caps, 1324,
          [(side_e_missense, BAR_KINDS[0]), (side_e_nonsense, BAR_KINDS[2]), (side_e_frameshift, BAR_KINDS[1]),
           (side_e_multi, BAR_KINDS[3])], 94, risk_high_in_e, "#2A52A8", "#E0262B", 244)
onco_legend(LEGEND_D, 182, 188)
onco_legend(LEGEND_E, 546, 552)

plot_scatter()
plot_km()

for s, x, y in [("A", 1, 8), ("B", 223, 8), ("C", 451, 8), ("D", 6, 207), ("E", 352, 207), ("F", 50, 437), ("G", 365, 437)]:
    label(x, y, s, fontsize=10.5, family="Liberation Serif", color="#111111")

fig.savefig("out.png", dpi=100)
plt.close(fig)
